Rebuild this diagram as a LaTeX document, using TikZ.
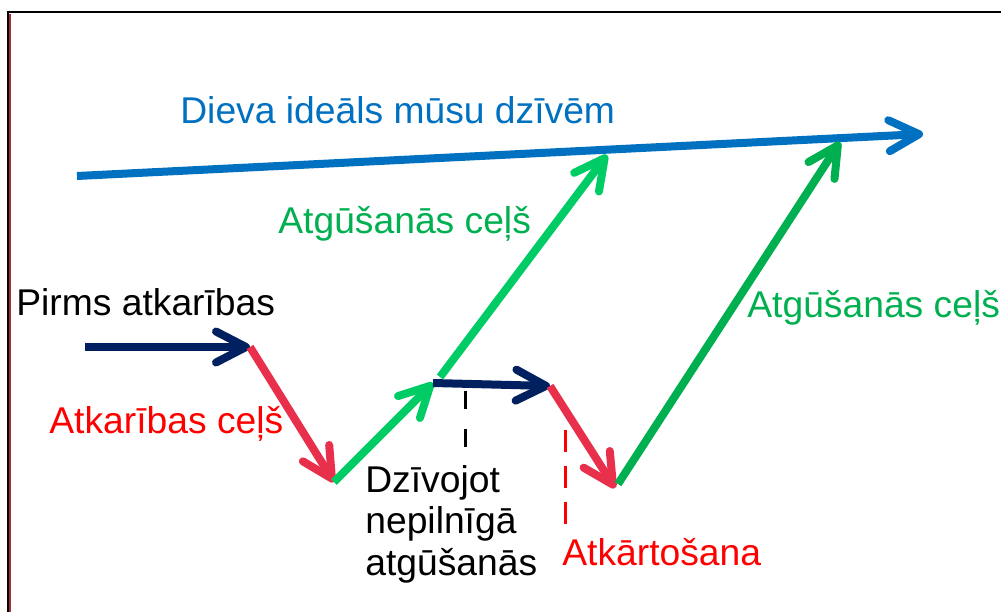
\documentclass[tikz,border=0pt]{standalone}
\usepackage{fontspec}
\setmainfont{Liberation Sans}
\usetikzlibrary{arrows.meta}

\definecolor{idealblue}{HTML}{0070C0}
\definecolor{navyblue}{HTML}{002060}
\definecolor{fallred}{HTML}{E8304C}
\definecolor{labelred}{HTML}{FF0000}
\definecolor{lightgreen}{HTML}{00CC66}
\definecolor{darkgreen}{HTML}{00B050}
\definecolor{edgered}{HTML}{A0303C}

\tikzset{
    pathline/.style={line width=0.16cm, -{Straight Barb[length=0.6cm, width=0.62cm, round]}},
    label/.style={anchor=base west, inner sep=0pt, font=\fontsize{21.2}{23.4}\selectfont},
    marker/.style={line width=0.06cm, dash pattern=on 0.36cm off 0.4cm}
}

\begin{document}
\begin{tikzpicture}[x=0.02cm, y=-0.02cm]
        \useasboundingbox (0,0) rectangle (1001,612);
        \fill[white] (0,0) rectangle (1001,612);

        % frame
        \draw[line width=0.04cm, black] (8,612) -- (8,12) -- (1001,12);
        \draw[line width=0.04cm, edgered] (10,612) -- (10,14);

        \coordinate (idealstart) at (77,176);
        \coordinate (idealend) at (923,134);
        \coordinate (before) at (85,347);
        \coordinate (fall) at (250,347);
        \coordinate (bottom) at (334,482);
        \coordinate (partial) at (433,383);
        \coordinate (climb) at (440,377);
        \coordinate (relapse) at (550,386);
        \coordinate (low) at (615,488);
        \coordinate (rise) at (618,484);
        \coordinate (top) at (607,155);
        \coordinate (reach) at (840,142);

        \draw[pathline, idealblue] (idealstart) -- (idealend);
        \node[label, idealblue] (ideal) at (180,123) {Dieva ideāls mūsu dzīvēm};

        \draw[pathline, navyblue] (before) -- (fall);
        \node[label, black] (beforetext) at (16,315) {Pirms atkarības};

        \draw[pathline, fallred] (fall) -- (bottom);
        \node[label, labelred] (falltext) at (49,433) {Atkarības ceļš};

        \draw[pathline, lightgreen] (bottom) -- (partial);
        \draw[pathline, navyblue] (partial) -- (relapse);
        \draw[pathline, lightgreen] (climb) -- (top);
        \node[label, darkgreen] (climbtext) at (278,233) {Atgūšanās ceļš};

        \draw[pathline, fallred] (relapse) -- (low);
        \draw[pathline, darkgreen] (rise) -- (reach);
        \node[label, darkgreen] (risetext) at (747,317) {Atgūšanās ceļš};

        \coordinate (livetop) at (465,391);
        \coordinate (relapsetop) at (565,430);
        \node[label, black, align=left] (livetext) at (365,575) {Dzīvojot\\nepilnīgā\\atgūšanās};
        \draw[marker, black] (livetop) -- (465,452);

        \node[label, labelred] (relapsetext) at (562,565) {Atkārtošana};
        \draw[marker, labelred, dash pattern=on 0.44cm off 0.28cm] (relapsetop) -- (565,526);
    \end{tikzpicture}
\end{document}
